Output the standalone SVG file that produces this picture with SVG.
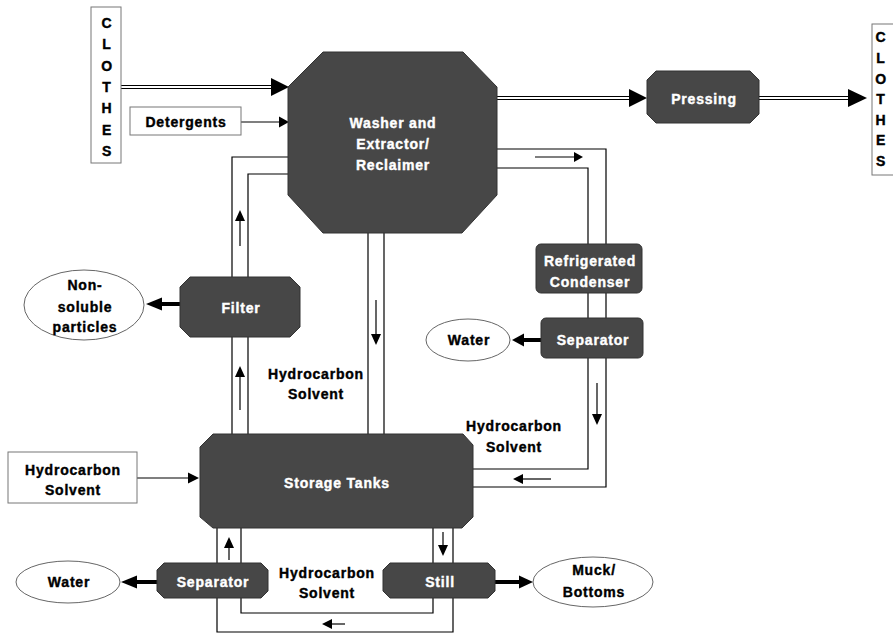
<svg xmlns="http://www.w3.org/2000/svg" width="893" height="633" viewBox="0 0 893 633">
<style>
text{font-family:"Liberation Sans",Arial,sans-serif;font-weight:bold;font-size:14px;letter-spacing:0.8px;text-anchor:middle;stroke-width:0.4px}
.w{fill:#ffffff;stroke:#ffffff}
.k{fill:#000000;stroke:#000000}
.node{fill:#474747;stroke:#333333;stroke-width:1}
.box{fill:#ffffff;stroke:#777777;stroke-width:1}
.ell{fill:#ffffff;stroke:#666666;stroke-width:1}
.ln{fill:none;stroke:#000000;stroke-width:1.2}
.thick{fill:none;stroke:#000000;stroke-width:4}
.head{fill:#000000}
</style>
<rect width="893" height="633" fill="#ffffff"/>
<g id="connectors">
  <line class="ln" x1="121" y1="85.5" x2="274" y2="85.5"/>
  <line class="ln" x1="121" y1="88.5" x2="274" y2="88.5"/>
  <polygon class="head" points="271,78 289,87 271,96"/>
  <line class="ln" x1="241" y1="122" x2="281" y2="122"/>
  <polygon class="head" points="279,116.5 289,122 279,127.5"/>
  <line class="ln" x1="497" y1="96.5" x2="632" y2="96.5"/>
  <line class="ln" x1="497" y1="99.5" x2="632" y2="99.5"/>
  <polygon class="head" points="629,89 647,98 629,107"/>
  <line class="ln" x1="759" y1="96.5" x2="851" y2="96.5"/>
  <line class="ln" x1="759" y1="99.5" x2="851" y2="99.5"/>
  <polygon class="head" points="848,89 867,98 848,107"/>
  <polyline class="ln" points="497,149 606,149 606,487 473,487"/>
  <polyline class="ln" points="497,168 588,168 588,469 473,469"/>
  <line class="ln" x1="535" y1="157" x2="575" y2="157"/>
  <polygon class="head" points="574,152 583,157 574,162"/>
  <line class="ln" x1="597" y1="383" x2="597" y2="415"/>
  <polygon class="head" points="592,414 597,425 602,414"/>
  <line class="ln" x1="551" y1="479" x2="522" y2="479"/>
  <polygon class="head" points="523,474 513,479 523,484"/>
  <line class="thick" x1="541" y1="340" x2="522" y2="340"/>
  <polygon class="head" points="524,333.5 512,340 524,346.5"/>
  <polyline class="ln" points="288,157 232,157 232,434"/>
  <polyline class="ln" points="288,174 248,174 248,434"/>
  <line class="ln" x1="240" y1="246" x2="240" y2="220"/>
  <polygon class="head" points="235,221 240,210 245,221"/>
  <line class="ln" x1="240" y1="410" x2="240" y2="376"/>
  <polygon class="head" points="235,377 240,366 245,377"/>
  <line class="thick" x1="180" y1="304" x2="160" y2="304"/>
  <polygon class="head" points="162,297.5 146,304 162,310.5"/>
  <line class="ln" x1="368" y1="233" x2="368" y2="434"/>
  <line class="ln" x1="384" y1="233" x2="384" y2="434"/>
  <line class="ln" x1="376" y1="300" x2="376" y2="335"/>
  <polygon class="head" points="371,334 376,345 381,334"/>
  <line class="ln" x1="137" y1="478" x2="190" y2="478"/>
  <polygon class="head" points="188,472.5 199,478 188,483.5"/>
  <polyline class="ln" points="241,528 241,613 433,613 433,528"/>
  <polyline class="ln" points="217,528 217,632 453,632 453,528"/>
  <line class="ln" x1="229" y1="560" x2="229" y2="546"/>
  <polygon class="head" points="224,548 229,537 234,548"/>
  <line class="ln" x1="443" y1="532" x2="443" y2="546"/>
  <polygon class="head" points="438,545 443,556 448,545"/>
  <line class="ln" x1="345" y1="624" x2="331" y2="624"/>
  <polygon class="head" points="332,619 322,624 332,629"/>
  <line class="thick" x1="157" y1="582" x2="135" y2="582"/>
  <polygon class="head" points="137,575.5 121,582 137,588.5"/>
  <line class="thick" x1="495" y1="582" x2="521" y2="582"/>
  <polygon class="head" points="519,575.5 533,582 519,588.5"/>
</g>
<g id="clothes-in">
  <rect class="box" x="91" y="7" width="30" height="156"/>
  <text class="k" x="107" y="28">C</text>
  <text class="k" x="107" y="49">L</text>
  <text class="k" x="107" y="71">O</text>
  <text class="k" x="107" y="92">T</text>
  <text class="k" x="107" y="113">H</text>
  <text class="k" x="107" y="135">E</text>
  <text class="k" x="107" y="156">S</text>
</g>
<g id="detergents">
  <rect class="box" x="130" y="107" width="111" height="28"/>
  <text class="k" x="186" y="127">Detergents</text>
</g>
<g id="washer">
  <polygon class="node" points="323,52 463,52 497,87 497,195 462,233 323,233 288,195 288,87"/>
  <text class="w" x="393" y="128">Washer and</text>
  <text class="w" x="393" y="149">Extractor/</text>
  <text class="w" x="393" y="170">Reclaimer</text>
</g>
<g id="pressing">
  <polygon class="node" points="656,71 750,71 759,80 759,114 750,123 656,123 647,114 647,80"/>
  <text class="w" x="704" y="104">Pressing</text>
</g>
<g id="clothes-out">
  <rect class="box" x="872" y="24" width="30" height="151"/>
  <text class="k" x="881" y="42">C</text>
  <text class="k" x="881" y="63">L</text>
  <text class="k" x="881" y="84">O</text>
  <text class="k" x="881" y="104">T</text>
  <text class="k" x="881" y="125">H</text>
  <text class="k" x="881" y="145">E</text>
  <text class="k" x="881" y="166">S</text>
</g>
<g id="condenser">
  <rect class="node" x="536" y="244" width="106" height="49" rx="5"/>
  <text class="w" x="590" y="266">Refrigerated</text>
  <text class="w" x="590" y="287">Condenser</text>
</g>
<g id="separator-right">
  <rect class="node" x="541" y="318" width="102" height="40" rx="5"/>
  <text class="w" x="593" y="345">Separator</text>
</g>
<g id="water-right">
  <ellipse class="ell" cx="468" cy="340" rx="42" ry="21"/>
  <text class="k" x="469" y="345">Water</text>
</g>
<g id="filter">
  <polygon class="node" points="190,277 290,277 300,287 300,327 290,337 190,337 180,327 180,287"/>
  <text class="w" x="241" y="313">Filter</text>
</g>
<g id="non-soluble">
  <ellipse class="ell" cx="84" cy="305" rx="60" ry="35"/>
  <text class="k" x="85" y="290">Non-</text>
  <text class="k" x="85" y="312">soluble</text>
  <text class="k" x="85" y="332">particles</text>
</g>
<g id="label-left">
  <text class="k" x="316" y="379">Hydrocarbon</text>
  <text class="k" x="316" y="399">Solvent</text>
</g>
<g id="label-right">
  <text class="k" x="514" y="431">Hydrocarbon</text>
  <text class="k" x="514" y="452">Solvent</text>
</g>
<g id="solvent-input">
  <rect class="box" x="8" y="452" width="129" height="51"/>
  <text class="k" x="73" y="475">Hydrocarbon</text>
  <text class="k" x="73" y="495">Solvent</text>
</g>
<g id="storage">
  <polygon class="node" points="213,434 463,434 473,445 473,517 462,528 213,528 200,517 200,447"/>
  <text class="w" x="337" y="488">Storage Tanks</text>
</g>
<g id="separator-bottom">
  <polygon class="node" points="164,563 261,563 268,570 268,591 261,598 164,598 157,591 157,570"/>
  <text class="w" x="213" y="587">Separator</text>
</g>
<g id="water-bottom">
  <ellipse class="ell" cx="68" cy="582" rx="52" ry="21"/>
  <text class="k" x="69" y="587">Water</text>
</g>
<g id="label-bottom">
  <text class="k" x="327" y="578">Hydrocarbon</text>
  <text class="k" x="327" y="598">Solvent</text>
</g>
<g id="still">
  <polygon class="node" points="390,563 488,563 495,570 495,591 488,598 390,598 383,591 383,570"/>
  <text class="w" x="440" y="587">Still</text>
</g>
<g id="muck">
  <ellipse class="ell" cx="593" cy="582" rx="60" ry="25"/>
  <text class="k" x="594" y="575">Muck/</text>
  <text class="k" x="594" y="597">Bottoms</text>
</g>
</svg>
